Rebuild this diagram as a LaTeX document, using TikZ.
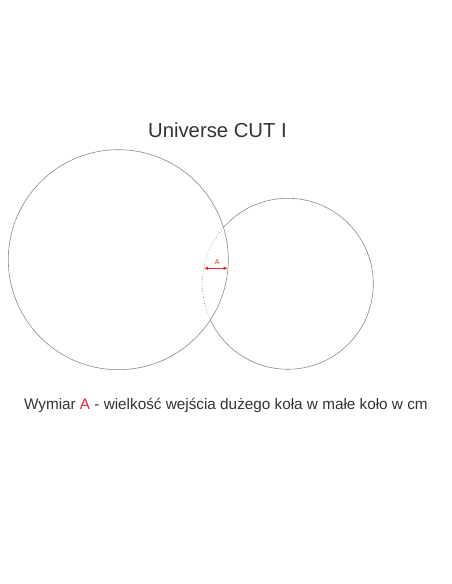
\documentclass[tikz,border=0pt]{standalone}
\usepackage{fontspec}
\setmainfont{Liberation Sans}
\usetikzlibrary{arrows.meta}
\definecolor{txtgray}{HTML}{333333}
\definecolor{linegray}{HTML}{8A8A8A}
\definecolor{dimred}{HTML}{E5262C}
\begin{document}
\begin{tikzpicture}[x=1pt,y=1pt,
  ring/.style={draw=linegray,line width=0.6pt},
  ringdot/.style={draw=linegray,line width=0.7pt,dash pattern=on 0.7pt off 2.3pt},
  dimarrow/.style={draw=dimred,line width=0.9pt,{Latex[length=4.5pt,width=3.6pt]}-{Latex[length=4.5pt,width=3.6pt]}},
  titletext/.style={font=\fontsize{20.3}{24}\selectfont,text=txtgray,inner sep=0pt},
  captext/.style={font=\fontsize{15.3}{18}\selectfont,text=txtgray,inner sep=0pt}]
\useasboundingbox (0,0) rectangle (452,584);
% title
\node[titletext] (title) at (217.5,454) {Universe CUT I};
% big circle
\coordinate (c1) at (118.3,324.3);
\draw[ring] (c1) circle[radius=110];
% small circle: solid outside, dotted inside the big one
\coordinate (c2) at (287.8,300.2);
\draw[ring] (c2) ++(138.8:85.5) arc[start angle=138.8,end angle=-155,radius=85.5];
\draw[ringdot] (c2) ++(138.8:85.5) arc[start angle=138.8,end angle=205,radius=85.5];
% dimension A
\coordinate (aL) at (203.7,315.7);
\coordinate (aR) at (228.0,315.7);
\draw[dimarrow] (aL) -- (aR);
\node[font=\fontsize{7}{8}\selectfont,text=dimred,inner sep=0pt] (alab) at (217.3,322.3) {A};
% caption
\node[captext] (cap) at (225.9,179) {Wymiar \textcolor{dimred}{A} - wielkość wejścia dużego koła w małe koło w cm};
\end{tikzpicture}
\end{document}
